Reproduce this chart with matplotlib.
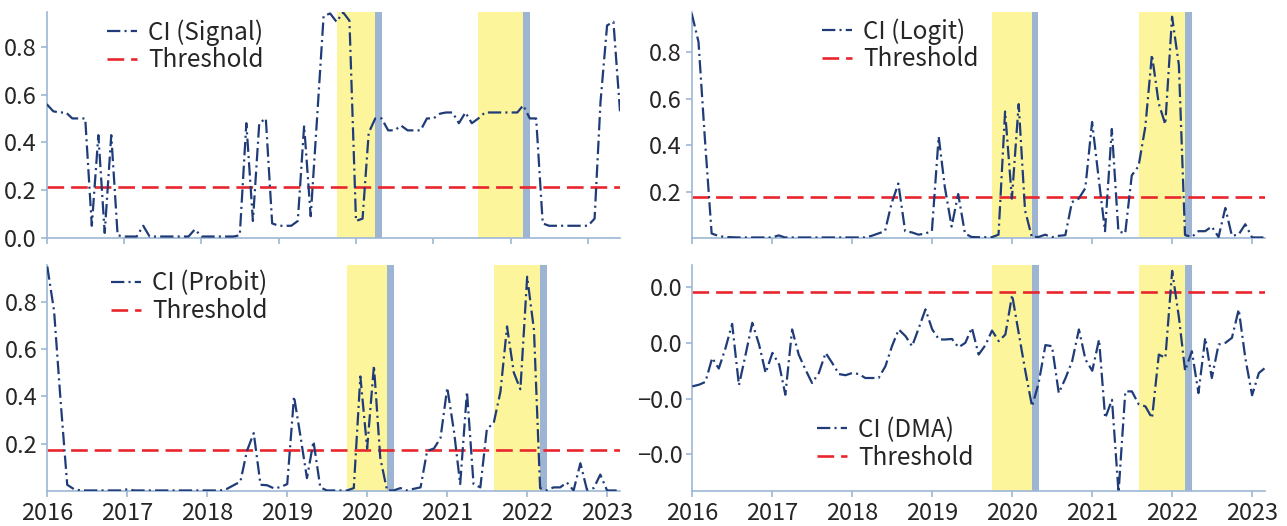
import numpy as np
import pandas as pd
import matplotlib
matplotlib.use('Agg')
import matplotlib.pyplot as plt
import matplotlib.dates as mdates
from matplotlib.ticker import FixedLocator, FuncFormatter

plt.rcParams['font.family'] = ['Noto Sans CJK SC', 'DejaVu Sans']
plt.rcParams['lines.scale_dashes'] = False

# monthly crisis indicators, first month 2016-01
signal = [0.56, 0.53, 0.525, 0.525, 0.50, 0.50, 0.50, 0.05, 0.43, 0.02,
          0.43, 0.01, 0.005, 0.005, 0.005, 0.05, 0.005, 0.005, 0.005, 0.005,
          0.005, 0.005, 0.005, 0.035, 0.005, 0.005, 0.005, 0.005, 0.005, 0.005,
          0.01, 0.48, 0.07, 0.48, 0.50, 0.06, 0.05, 0.05, 0.05, 0.07,
          0.47, 0.09, 0.50, 0.93, 0.94, 0.905, 0.945, 0.91, 0.07, 0.08,
          0.44, 0.50, 0.50, 0.45, 0.45, 0.47, 0.45, 0.45, 0.45, 0.50,
          0.50, 0.52, 0.525, 0.525, 0.48, 0.525, 0.48, 0.50, 0.525, 0.525,
          0.525, 0.525, 0.525, 0.525, 0.555, 0.50, 0.50, 0.06, 0.05, 0.05,
          0.05, 0.05, 0.05, 0.05, 0.05, 0.08, 0.57, 0.89, 0.905, 0.53]
logit = [0.967, 0.845, 0.43, 0.02, 0.01, 0.005, 0.004, 0.003, 0.003, 0.003,
         0.003, 0.003, 0.003, 0.012, 0.003, 0.003, 0.003, 0.003, 0.003, 0.003,
         0.003, 0.003, 0.003, 0.003, 0.003, 0.003, 0.003, 0.01, 0.02, 0.03,
         0.15, 0.235, 0.03, 0.025, 0.015, 0.02, 0.03, 0.437, 0.22, 0.05,
         0.19, 0.02, 0.005, 0.004, 0.004, 0.004, 0.015, 0.545, 0.17, 0.577,
         0.12, 0.005, 0.005, 0.015, 0.004, 0.01, 0.013, 0.155, 0.17, 0.215,
         0.50, 0.25, 0.03, 0.47, 0.03, 0.02, 0.27, 0.31, 0.48, 0.79,
         0.58, 0.49, 0.953, 0.745, 0.014, 0.005, 0.03, 0.03, 0.05, 0.005,
         0.13, 0.01, 0.016, 0.06, 0.003, 0.003, 0.003]
probit = [0.948, 0.76, 0.39, 0.027, 0.009, 0.003, 0.003, 0.003, 0.003, 0.003,
          0.003, 0.003, 0.008, 0.003, 0.003, 0.003, 0.003, 0.003, 0.003, 0.003,
          0.003, 0.003, 0.003, 0.003, 0.003, 0.003, 0.003, 0.01, 0.025, 0.04,
          0.17, 0.245, 0.027, 0.025, 0.012, 0.017, 0.03, 0.40, 0.24, 0.055,
          0.21, 0.016, 0.003, 0.003, 0.003, 0.003, 0.013, 0.484, 0.18, 0.53,
          0.14, 0.003, 0.003, 0.013, 0.003, 0.01, 0.016, 0.17, 0.18, 0.224,
          0.437, 0.25, 0.03, 0.42, 0.03, 0.016, 0.263, 0.287, 0.42, 0.695,
          0.50, 0.43, 0.905, 0.68, 0.013, 0.003, 0.016, 0.016, 0.037, 0.003,
          0.118, 0.006, 0.013, 0.07, 0.003, 0.003, 0.003]
dma = [-0.0078, -0.0075, -0.0070, -0.0027, -0.0046, -0.0009, 0.0034, -0.0076, -0.0020, 0.0036,
       -0.0003, -0.0054, -0.0018, -0.0039, -0.0093, 0.0024, -0.0021, -0.0048, -0.0072, -0.0054,
       -0.0018, -0.0036, -0.0056, -0.0058, -0.0054, -0.0056, -0.0063, -0.0063, -0.0063, -0.0042,
       -0.0006, 0.0024, 0.0012, -0.0006, 0.0027, 0.0060, 0.0024, 0.0006, 0.0006, 0.0007,
       -0.0008, 0.0000, 0.0027, -0.0021, -0.0004, 0.0022, 0.0003, 0.0015, 0.0086, 0.0015,
       -0.0050, -0.0114, -0.0072, -0.0004, -0.0006, -0.0090, -0.0063, -0.0033, 0.0024, -0.0030,
       -0.0050, 0.0006, -0.0135, -0.0102, -0.0268, -0.0087, -0.0087, -0.0110, -0.0114, -0.0135,
       -0.0021, -0.0027, 0.0129, 0.0045, -0.0050, -0.0015, -0.0090, 0.0009, -0.0063, -0.0003,
       0.0000, 0.0009, 0.0060, -0.0027, -0.0094, -0.0054, -0.0045]

labels = ['CI (Signal)', 'CI (Logit)', 'CI (Probit)', 'CI (DMA)']
thresholds = [0.214, 0.1786, 0.172, 0.00904]
ylims = [(0.0, 0.945), (0.002, 0.972), (0.002, 0.953), (-0.0265, 0.0139)]
yticks = [[0, 0.2, 0.4, 0.6, 0.8], [0.2, 0.4, 0.6, 0.8],
          [0.2, 0.4, 0.6, 0.8], [0.01, 0.0, -0.01, -0.02]]

# shaded periods (yellow = crisis window, blue = onset month)
yellow = [('2019-10-01', '2020-04-01'), ('2021-08-01', '2022-03-01')]
blue = [('2020-04-01', '2020-05-01'), ('2022-03-01', '2022-04-01')]

W, H = 1287, 526
fig = plt.figure(figsize=(W / 100, H / 100), dpi=100)

# axes boxes in pixels: left, right, top, bottom
boxes = [(46.7, 620, 12.3, 237.7), (691.7, 1265, 12.3, 237.7),
         (47.3, 620, 265.3, 490.7), (692.3, 1265, 265.3, 490.7)]
# legend anchor (handle left, top of first row) in pixels
leg_pos = [(107, 19), (822, 18), (111, 270.5), (817, 417)]

line_col = '#1f3c78'
red = '#e8262d'
spine_col = '#9db7d6'
txt_col = '#262626'


def fmt(v, pos):
    return f'{v:.1f}'.replace('-', '\u2212')


series = [signal, logit, probit, dma]
for k, vals in enumerate(series):
    l, r, t, b = boxes[k]
    ax = fig.add_axes([l / W, 1 - b / H, (r - l) / W, (b - t) / H])
    dates = pd.date_range('2016-01-01', periods=len(vals), freq='MS')

    for s, e in yellow:
        ax.axvspan(pd.Timestamp(s), pd.Timestamp(e), color='#fdf59c', lw=0, zorder=1)
    for s, e in blue:
        ax.axvspan(pd.Timestamp(s), pd.Timestamp(e), color='#9db4d2', lw=0, zorder=1)

    ax.plot(dates, vals, color=line_col, lw=1.6,
            linestyle=(0, (9.6, 3, 1.5, 3)), label=labels[k], zorder=3)
    ax.axhline(thresholds[k], color=red, lw=1.9, linestyle=(0, (12, 5)),
               label='Threshold', zorder=2)

    ax.set_xlim(dates[0], dates[-1])
    ax.set_ylim(*ylims[k])
    ax.yaxis.set_major_locator(FixedLocator(yticks[k]))
    ax.yaxis.set_major_formatter(FuncFormatter(fmt))
    ax.xaxis.set_major_locator(mdates.YearLocator())
    ax.xaxis.set_major_formatter(mdates.DateFormatter('%Y'))
    if k < 2:
        ax.tick_params(axis='x', labelbottom=False)

    for side in ['top', 'right']:
        ax.spines[side].set_visible(False)
    for side in ['left', 'bottom']:
        ax.spines[side].set_color(spine_col)
        ax.spines[side].set_linewidth(1.2)
    ax.tick_params(colors=spine_col, labelcolor=txt_col, labelsize=17,
                   length=4, width=1.2)
    ax.tick_params(axis='x', pad=4)
    ax.tick_params(axis='y', pad=3)

    lx, ly = leg_pos[k]
    ax.legend(loc='upper left', bbox_to_anchor=(lx / W, 1 - ly / H),
              bbox_transform=fig.transFigure, frameon=False, fontsize=17.5,
              borderpad=0, borderaxespad=0, handlelength=1.25,
              handletextpad=0.45, labelspacing=0.08, labelcolor=txt_col)

fig.savefig('out.png', dpi=100)
